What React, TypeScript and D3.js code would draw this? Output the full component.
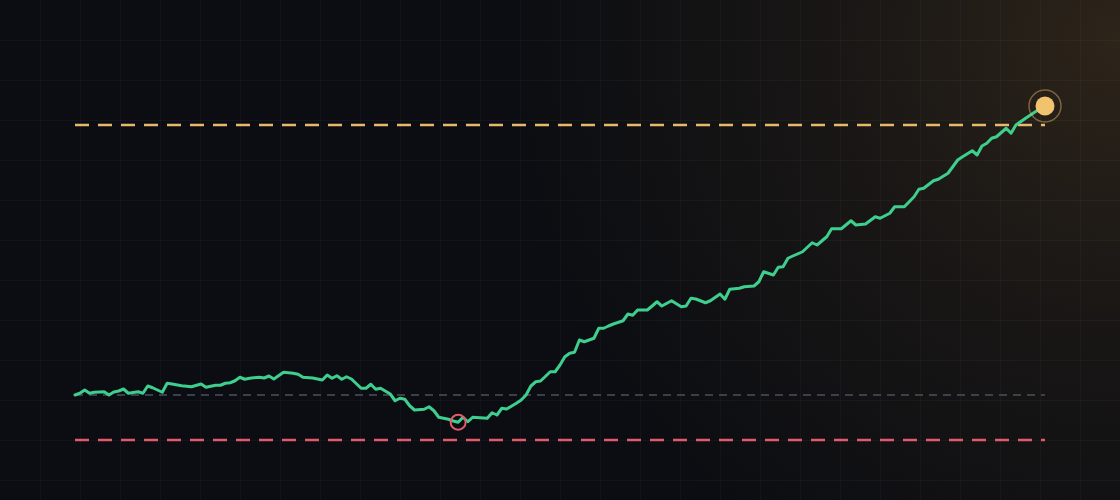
import * as d3 from 'd3';
import { useEffect, useRef } from 'react';

// trading session index and closing value
const days = [
  0, 1, 2, 3, 4, 6, 7, 8, 9, 10, 11, 13, 14, 15, 16, 18, 19, 20, 22, 24, 26, 27, 29, 30, 31, 32, 33,
  34, 35, 36, 38, 39, 40, 41, 43, 45, 46, 47, 49, 51, 52, 53, 54, 55, 56, 57, 59, 60, 61, 62, 63,
  65, 66, 67, 68, 69, 70, 72, 73, 74, 75, 77, 78, 79, 80, 81, 82, 85, 86, 87, 88, 89, 91, 92, 93,
  94, 95, 96, 98, 99, 100, 101, 102, 103, 104, 105, 107, 108, 109, 110, 111, 113, 114, 115, 116,
  118, 119, 120, 121, 123, 125, 126, 127, 128, 130, 131, 133, 134, 135, 137, 138, 140, 141, 142,
  144, 145, 146, 147, 148, 150, 152, 153, 155, 156, 158, 160, 161, 163, 165, 166, 168, 169, 171,
  173, 174, 175, 177, 178, 180, 182, 183, 185, 186, 187, 188, 189, 190, 192, 193, 194, 196, 198, 200,
];

const values = [
  100, 100.7, 102.0, 100.7, 101.1, 101.3, 100.0, 101.2, 101.6, 102.4, 100.7, 101.3, 100.7, 103.6,
  102.9, 101.1, 104.7, 104.4, 103.7, 103.3, 104.4, 103.1, 103.9, 103.9, 104.7, 104.9, 105.7, 107.1,
  106.3, 106.7, 107.1, 106.8, 107.6, 106.4, 109.1, 108.7, 108.3, 107.1, 106.8, 106.0, 108.0, 106.7,
  107.7, 106.3, 107.3, 106.4, 102.7, 102.7, 104.3, 102.3, 102.7, 100.4, 97.7, 98.7, 98.3, 95.7, 94.0,
  94.3, 95.3, 93.7, 91.1, 90.3, 89.6, 89.1, 91.1, 89.3, 91.1, 90.7, 92.9, 92.0, 94.7, 94.4, 96.7,
  98.0, 100.0, 103.6, 105.3, 105.6, 109.3, 109.3, 112.0, 115.3, 116.7, 117.1, 122.0, 121.3, 122.7,
  126.7, 126.7, 127.6, 128.4, 129.7, 132.4, 131.9, 134.0, 134.0, 135.6, 137.3, 135.6, 137.7, 135.3,
  135.6, 138.7, 138.4, 136.9, 137.7, 140.4, 138.3, 142.3, 142.7, 143.3, 143.6, 145.3, 149.3, 148.0,
  151.1, 151.3, 154.7, 155.6, 157.3, 160.9, 160.0, 163.3, 166.5, 166.5, 169.7, 168.0, 168.4, 171.3,
  170.7, 172.7, 175.3, 175.3, 179.3, 182.3, 182.7, 185.7, 186.3, 188.7, 194.0, 195.3, 197.7, 196.0,
  199.6, 200.7, 202.7, 203.3, 206.7, 204.7, 208.0, 210.7, 213.3, 215.6,
];

const entryLevel = 100;
const targetLevel = 208;
const stopLevel = 82;
const sessionCount = 200;

const width = 1120;
const height = 500;

const App = () => {
  const ref = useRef<SVGSVGElement>(null);

  useEffect(() => {
    const margin = { top: 125, right: 75, bottom: 60, left: 75 };
    const data = days.map((d, i) => ({ day: d, value: values[i] }));

    const svg = d3.select(ref.current);
    svg.selectAll('*').remove();

    const x = d3
      .scaleLinear()
      .domain([0, sessionCount])
      .range([margin.left, width - margin.right]);

    const y = d3
      .scaleLinear()
      .domain([stopLevel, targetLevel])
      .range([height - margin.bottom, margin.top]);

    const defs = svg.append('defs');
    const glow = defs
      .append('radialGradient')
      .attr('id', 'warm')
      .attr('gradientUnits', 'userSpaceOnUse')
      .attr('cx', width)
      .attr('cy', 40)
      .attr('r', 620);
    glow.append('stop').attr('offset', '0%').attr('stop-color', '#c08a3c').attr('stop-opacity', 0.19);
    glow.append('stop').attr('offset', '45%').attr('stop-color', '#a87634').attr('stop-opacity', 0.09);
    glow.append('stop').attr('offset', '100%').attr('stop-color', '#a87634').attr('stop-opacity', 0);

    svg.append('rect').attr('width', width).attr('height', height).attr('fill', '#0b0d12');
    svg.append('rect').attr('width', width).attr('height', height).attr('fill', 'url(#warm)');

    // background grid, every 40px
    const grid = svg.append('g').attr('stroke', '#ffffff').attr('stroke-opacity', 0.033);
    grid
      .selectAll('line.v')
      .data(d3.range(40, width, 40))
      .enter()
      .append('line')
      .attr('x1', (d) => d + 0.5)
      .attr('x2', (d) => d + 0.5)
      .attr('y1', 0)
      .attr('y2', height);
    grid
      .selectAll('line.h')
      .data(d3.range(40, height, 40))
      .enter()
      .append('line')
      .attr('y1', (d) => d + 0.5)
      .attr('y2', (d) => d + 0.5)
      .attr('x1', 0)
      .attr('x2', width);

    const level = (v: number, color: string, dash: string, w: number) =>
      svg
        .append('line')
        .attr('x1', x(0))
        .attr('x2', x(sessionCount))
        .attr('y1', y(v))
        .attr('y2', y(v))
        .attr('stroke', color)
        .attr('stroke-width', w)
        .attr('stroke-dasharray', dash);

    level(entryLevel, '#4b505c', '8 6', 1.5);
    level(targetLevel, '#e8b96c', '14 9', 2.5);
    level(stopLevel, '#e25a6c', '14 9', 2.5);

    const line = d3
      .line<{ day: number; value: number }>()
      .x((d) => x(d.day))
      .y((d) => y(d.value));

    svg
      .append('path')
      .datum(data)
      .attr('d', line)
      .attr('fill', 'none')
      .attr('stroke', '#3ecf8e')
      .attr('stroke-width', 3)
      .attr('stroke-linejoin', 'round')
      .attr('stroke-linecap', 'round');

    const low = data.reduce((a, b) => (b.value < a.value ? b : a));
    svg
      .append('circle')
      .attr('cx', x(low.day))
      .attr('cy', y(low.value))
      .attr('r', 7.5)
      .attr('fill', 'none')
      .attr('stroke', '#e25a6c')
      .attr('stroke-width', 2);

    const last = data[data.length - 1];
    svg
      .append('circle')
      .attr('cx', x(last.day))
      .attr('cy', y(last.value))
      .attr('r', 16)
      .attr('fill', 'none')
      .attr('stroke', '#e8b96c')
      .attr('stroke-opacity', 0.45)
      .attr('stroke-width', 1.5);
    svg
      .append('circle')
      .attr('cx', x(last.day))
      .attr('cy', y(last.value))
      .attr('r', 9.5)
      .attr('fill', '#f2c36e');
  }, []);

  return (
    <div>
      <style>{`body { margin: 0; background: #0b0d12; }`}</style>
      <svg ref={ref} width={width} height={height} style={{ display: 'block' }} />
    </div>
  );
};

export default App;
